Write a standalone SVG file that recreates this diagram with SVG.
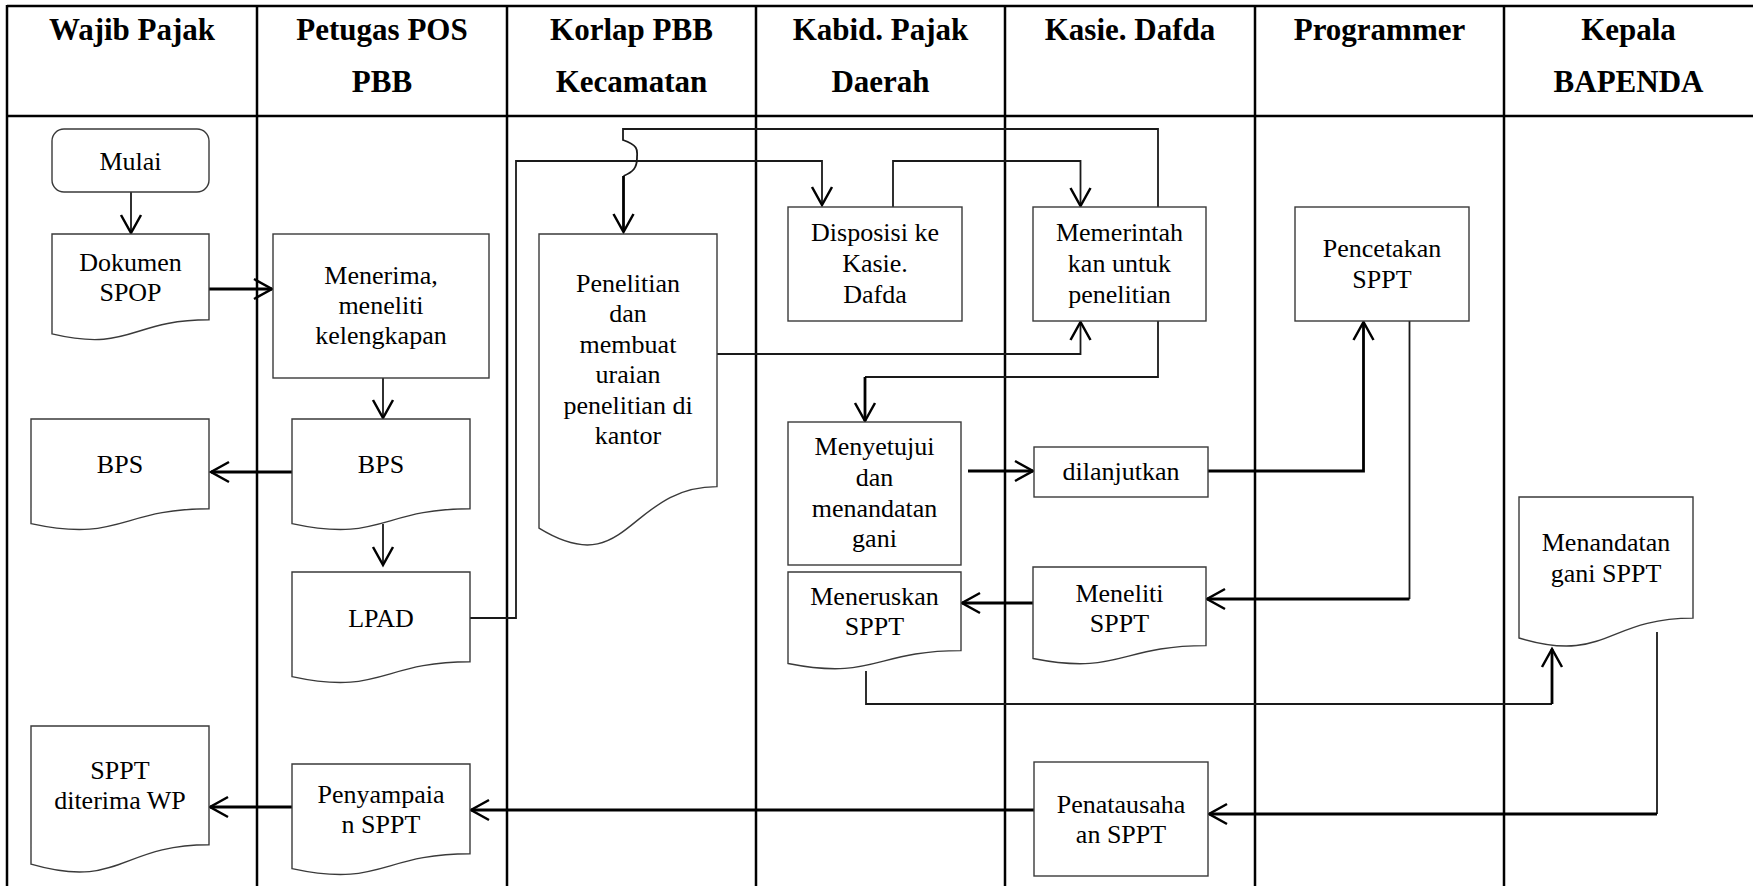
<svg xmlns="http://www.w3.org/2000/svg" width="1753" height="886" viewBox="0 0 1753 886">
<defs>
<style>
.grid{stroke:#000;stroke-width:2.5;fill:none}
.hd{font-size:31px;font-weight:bold;text-anchor:middle;fill:#000}
.tx{font-size:26px;text-anchor:middle;fill:#000}
.nd{fill:#fff;stroke:#3a3a3a;stroke-width:1.4}
.cn{fill:none;stroke:#1a1a1a;stroke-width:1.8}
.ck{fill:none;stroke:#000;stroke-width:2.8}
</style>
<marker id="ah" markerUnits="userSpaceOnUse" markerWidth="26" markerHeight="26" viewBox="-22 -13 26 26" refX="0" refY="0" orient="auto">
<path d="M-18,-10 L0,0 L-18,10" fill="none" stroke="#000" stroke-width="2.5"/>
</marker>
</defs>
<rect x="0" y="0" width="1753" height="886" fill="#fff"/>
<g id="table" font-family="Liberation Serif, Times New Roman, serif">
<line class="grid" x1="7" y1="6" x2="1753" y2="6"/>
<line class="grid" x1="7" y1="116" x2="1753" y2="116"/>
<line class="grid" x1="7" y1="5" x2="7" y2="886"/>
<line class="grid" x1="257" y1="5" x2="257" y2="886"/>
<line class="grid" x1="507" y1="5" x2="507" y2="886"/>
<line class="grid" x1="756" y1="5" x2="756" y2="886"/>
<line class="grid" x1="1005" y1="5" x2="1005" y2="886"/>
<line class="grid" x1="1255" y1="5" x2="1255" y2="886"/>
<line class="grid" x1="1504" y1="5" x2="1504" y2="886"/>
<text class="hd" x="132" y="40">Wajib Pajak</text>
<text class="hd" x="382" y="40">Petugas POS</text>
<text class="hd" x="382" y="92">PBB</text>
<text class="hd" x="631.5" y="40">Korlap PBB</text>
<text class="hd" x="631.5" y="92">Kecamatan</text>
<text class="hd" x="880.5" y="40">Kabid. Pajak</text>
<text class="hd" x="880.5" y="92">Daerah</text>
<text class="hd" x="1130" y="40">Kasie. Dafda</text>
<text class="hd" x="1379.5" y="40">Programmer</text>
<text class="hd" x="1628.5" y="40">Kepala</text>
<text class="hd" x="1628.5" y="92">BAPENDA</text>
</g>
<g id="connectors">
<path class="cn" d="M131,192 V233" marker-end="url(#ah)"/>
<path class="ck" d="M209,289 H272" marker-end="url(#ah)"/>
<path class="cn" d="M383,378 V418" marker-end="url(#ah)"/>
<path class="ck" d="M292,472 H211" marker-end="url(#ah)"/>
<path class="cn" d="M383,524 V565" marker-end="url(#ah)"/>
<path class="cn" d="M470,618 H516 V161 H822 V205" marker-end="url(#ah)"/>
<path class="cn" d="M1158,207 V129 H623 V140 C640,146 637,151 637,158 C637,168 633,172 623.5,176"/>
<path class="ck" d="M623.5,176 V232" marker-end="url(#ah)"/>
<path class="cn" d="M893,207 V161 H1080.5 V206" marker-end="url(#ah)"/>
<path class="cn" d="M717,354 H1080.5 V322" marker-end="url(#ah)"/>
<path class="cn" d="M1158,321 V377 H865"/>
<path class="ck" d="M865,377 V421" marker-end="url(#ah)"/>
<path class="ck" d="M968,471 H1033" marker-end="url(#ah)"/>
<path class="ck" d="M1208,471 H1363.5 V322" marker-end="url(#ah)"/>
<path class="cn" d="M1409.5,321 V599"/>
<path class="ck" d="M1409.5,599 H1207" marker-end="url(#ah)"/>
<path class="ck" d="M1033,603 H962" marker-end="url(#ah)"/>
<path class="cn" d="M866,671 V704 H1552"/>
<path class="ck" d="M1552,704 V649" marker-end="url(#ah)"/>
<path class="cn" d="M1657,632 V814"/>
<path class="ck" d="M1657,814 H1209" marker-end="url(#ah)"/>
<path class="ck" d="M1034,810 H471" marker-end="url(#ah)"/>
<path class="ck" d="M292,807 H210" marker-end="url(#ah)"/>
</g>
<g font-family="Liberation Serif, Times New Roman, serif">
<g id="mulai">
<rect class="nd" x="52" y="129" width="157" height="63" rx="12"/>
<text class="tx" x="130.5" y="170">Mulai</text>
</g>
<g id="dokumen-spop">
<path class="nd" d="M52,234 H209 V319.8 C130.5,319.8 130.5,352.5 52,333.9 Z"/>
<text class="tx" x="130.5" y="271">Dokumen</text>
<text class="tx" x="130.5" y="301">SPOP</text>
</g>
<g id="menerima">
<rect class="nd" x="273" y="234" width="216" height="144"/>
<text class="tx" x="381" y="284">Menerima,</text>
<text class="tx" x="381" y="314">meneliti</text>
<text class="tx" x="381" y="344">kelengkapan</text>
</g>
<g id="bps-wp">
<path class="nd" d="M31,419 H209 V508.8 C120,508.8 120,543 31,523.6 Z"/>
<text class="tx" x="120" y="473">BPS</text>
</g>
<g id="bps-pos">
<path class="nd" d="M292,419 H470 V508.8 C381,508.8 381,543 292,523.6 Z"/>
<text class="tx" x="381" y="473">BPS</text>
</g>
<g id="lpad">
<path class="nd" d="M292,572 H470 V661.8 C381,661.8 381,696 292,676.6 Z"/>
<text class="tx" x="381" y="627">LPAD</text>
</g>
<g id="penyampaian">
<path class="nd" d="M292,764 H470 V853.8 C381,853.8 381,888 292,868.6 Z"/>
<text class="tx" x="381" y="803">Penyampaia</text>
<text class="tx" x="381" y="833">n SPPT</text>
</g>
<g id="sppt-diterima">
<path class="nd" d="M31,726 H209 V844.7 C120,844.7 120,889.9 31,864.2 Z"/>
<text class="tx" x="120" y="779">SPPT</text>
<text class="tx" x="120" y="809">diterima WP</text>
</g>
<g id="penelitian">
<path class="nd" d="M539,234 H717 V486.6 C628,486.6 628,582.9 539,528.2 Z"/>
<text class="tx" x="628" y="292">Penelitian</text>
<text class="tx" x="628" y="322">dan</text>
<text class="tx" x="628" y="353">membuat</text>
<text class="tx" x="628" y="383">uraian</text>
<text class="tx" x="628" y="414">penelitian di</text>
<text class="tx" x="628" y="444">kantor</text>
</g>
<g id="disposisi">
<rect class="nd" x="788" y="207" width="174" height="114"/>
<text class="tx" x="875" y="241">Disposisi ke</text>
<text class="tx" x="875" y="272">Kasie.</text>
<text class="tx" x="875" y="303">Dafda</text>
</g>
<g id="memerintah">
<rect class="nd" x="1033" y="207" width="173" height="114"/>
<text class="tx" x="1119.5" y="241">Memerintah</text>
<text class="tx" x="1119.5" y="272">kan untuk</text>
<text class="tx" x="1119.5" y="303">penelitian</text>
</g>
<g id="pencetakan">
<rect class="nd" x="1295" y="207" width="174" height="114"/>
<text class="tx" x="1382" y="257">Pencetakan</text>
<text class="tx" x="1382" y="288">SPPT</text>
</g>
<g id="menyetujui">
<rect class="nd" x="788" y="422" width="173" height="143"/>
<text class="tx" x="874.5" y="455">Menyetujui</text>
<text class="tx" x="874.5" y="486">dan</text>
<text class="tx" x="874.5" y="517">menandatan</text>
<text class="tx" x="874.5" y="547">gani</text>
</g>
<g id="dilanjutkan">
<rect class="nd" x="1034" y="447" width="174" height="50"/>
<text class="tx" x="1121" y="480">dilanjutkan</text>
</g>
<g id="meneruskan">
<path class="nd" d="M788,572 H961 V650.6 C874.5,650.6 874.5,680.5 788,663.5 Z"/>
<text class="tx" x="874.5" y="605">Meneruskan</text>
<text class="tx" x="874.5" y="635">SPPT</text>
</g>
<g id="meneliti">
<path class="nd" d="M1033,567 H1206 V645.6 C1119.5,645.6 1119.5,675.5 1033,658.5 Z"/>
<text class="tx" x="1119.5" y="602">Meneliti</text>
<text class="tx" x="1119.5" y="632">SPPT</text>
</g>
<g id="menandatangani">
<path class="nd" d="M1519,497 H1693 V618.1 C1606,618.1 1606,664.2 1519,638 Z"/>
<text class="tx" x="1606" y="551">Menandatan</text>
<text class="tx" x="1606" y="582">gani SPPT</text>
</g>
<g id="penatausahaan">
<rect class="nd" x="1034" y="762" width="174" height="114"/>
<text class="tx" x="1121" y="813">Penatausaha</text>
<text class="tx" x="1121" y="843">an SPPT</text>
</g>
</g>
</svg>
